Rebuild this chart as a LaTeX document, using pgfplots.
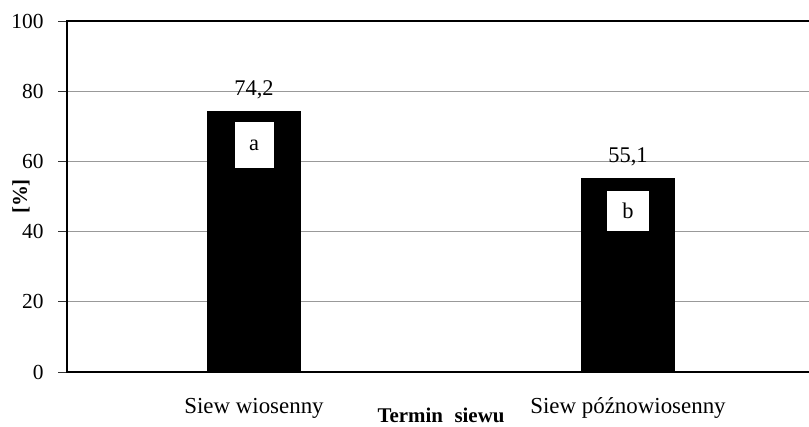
\documentclass[border=0pt]{standalone}
\usepackage{fontspec}
\setmainfont{Liberation Serif}
\usepackage{pgfplots}
\pgfplotsset{compat=1.18}
\begin{document}
\begin{tikzpicture}
\path[use as bounding box] (0,0) rectangle (809bp,427bp);
\begin{axis}[
  at={(67bp,55bp)}, anchor=south west,
  scale only axis, width=748bp, height=351bp,
  xmin=-0.5, xmax=1.5, ymin=0, ymax=100,
  ybar, bar width=93bp,
  xtick={0,1}, xticklabels={Siew wiosenny, Siew późnowiosenny},
  minor xtick={-0.5,0.5,1.5},
  ytick={0,20,40,60,80,100},
  xtick pos=bottom, ytick pos=left,
  tick align=outside,
  major tick length=9bp, minor tick length=8bp,
  xtick style={draw=none},
  ytick style={black!80, line width=0.8bp},
  minor x tick style={gray, line width=0.8bp},
  ymajorgrids, grid style={gray!80, line width=0.8bp},
  axis line style={black, line width=1.8bp},
  /pgf/number format/assume math mode=true,
  yticklabel style={font=\fontsize{21.5}{25}\selectfont, anchor=east, xshift=-11bp},
  xticklabel style={font=\fontsize{23}{27}\selectfont, anchor=base, yshift=-32bp},
  ylabel={[\%]}, xlabel={Termin\hspace{0.55em}siewu},
  label style={font=\fontsize{21}{25}\selectfont\bfseries},
  ylabel style={at={(axis description cs:-0.0615,0.5)}, anchor=center},
  xlabel style={at={(axis description cs:0.5,0)}, anchor=base, inner sep=0pt, yshift=-50bp},
  point meta=explicit symbolic,
  nodes near coords,
  every node near coord/.append style={anchor=base, yshift=16bp, font=\fontsize{22.5}{26}\selectfont, black},
  clip=false,
]
\addplot[fill=black, draw=black] coordinates {(0,74.2) [74,2] (1,55.1) [55,1]};
\node[fill=white, minimum width=39bp, minimum height=46bp, inner sep=0pt, font=\fontsize{22.5}{26}\selectfont] at (axis cs:0,64.7) {a};
\node[fill=white, minimum width=42bp, minimum height=40bp, inner sep=0pt, font=\fontsize{22.5}{26}\selectfont] at (axis cs:1,46.0) {b};
\end{axis}
\end{tikzpicture}
\end{document}
